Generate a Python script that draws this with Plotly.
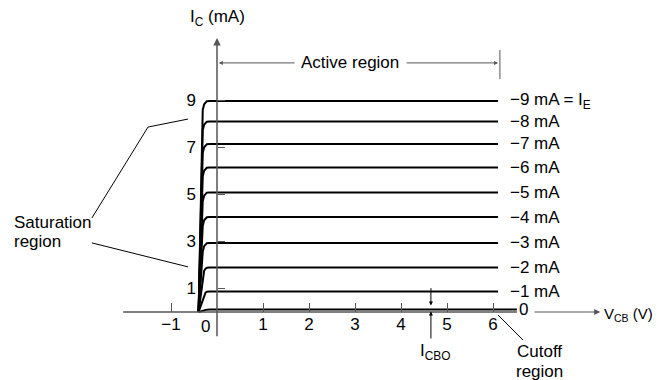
import plotly.graph_objects as go

# ---- data ----
ie_labels = ["−9 mA = I<sub>E</sub>", "−8 mA", "−7 mA", "−6 mA", "−5 mA",
             "−4 mA", "−3 mA", "−2 mA", "−1 mA", "0"]
ic_levels = [8.98, 8.11, 7.15, 6.15, 5.09, 4.04, 2.94, 1.89, 0.87, 0.11]
vcb_knee = [-0.40, -0.31, -0.28, -0.25, -0.22, -0.16]
v_end = [6.11, 6.11, 6.11, 6.11, 6.11, 6.11, 6.11, 6.11, 6.11, 6.52]
ic_9 = [0, 8.60, 8.84, 8.93, 8.97, 8.98, 8.98]
ic_8 = [0, 7.73, 7.97, 8.06, 8.10, 8.11, 8.11]
ic_7 = [0, 6.77, 7.01, 7.10, 7.14, 7.15, 7.15]
ic_6 = [0, 5.77, 6.01, 6.10, 6.14, 6.15, 6.15]
ic_5 = [0, 4.71, 4.95, 5.04, 5.08, 5.09, 5.09]
ic_4 = [0, 3.66, 3.90, 3.99, 4.03, 4.04, 4.04]
ic_3 = [0, 2.56, 2.80, 2.89, 2.93, 2.94, 2.94]
ic_2 = [0, 1.51, 1.75, 1.84, 1.88, 1.89, 1.89]
ic_1 = [0, 0.52, 0.74, 0.82, 0.86, 0.87, 0.87]
ic_0 = [0, 0.03, 0.07, 0.09, 0.105, 0.11, 0.11]
ic_curves = [ic_9, ic_8, ic_7, ic_6, ic_5, ic_4, ic_3, ic_2, ic_1, ic_0]
x_ticks = [-1, 1, 2, 3, 4, 5, 6]
x_tick_text = ["−1", "1", "2", "3", "4", "5", "6"]
y_ticks = [1, 3, 5, 7, 9]

FONT = "Liberation Sans, Arial, sans-serif"
AX = "#555555"
FS = 17

fig = go.Figure()
for ic, ve in zip(ic_curves, v_end):
    fig.add_trace(go.Scatter(x=vcb_knee + [ve], y=ic, mode="lines",
                             line=dict(color="black", width=2),
                             hoverinfo="skip", showlegend=False))

ann = []
# curve labels
for lab, lvl in zip(ie_labels, ic_levels):
    xpos = 6.52 if lab == "0" else 6.33
    ann.append(dict(x=xpos, y=lvl, text=lab, showarrow=False, xanchor="left",
                    yanchor="middle", font=dict(size=FS)))

# axis arrows
ann.append(dict(x=0, y=11.66, ax=0, ay=-1.1, xref="x", yref="y", axref="x", ayref="y",
                showarrow=True, arrowhead=2, arrowsize=1, arrowwidth=1.5, arrowcolor=AX, text=""))
ann.append(dict(x=8.33, y=0, ax=6.87, ay=0, xref="x", yref="y", axref="x", ayref="y",
                showarrow=True, arrowhead=2, arrowsize=1, arrowwidth=1.2, arrowcolor=AX, text=""))
# axis titles
ann.append(dict(x=-0.63, y=12.5, text="I<sub>C</sub> (mA)", showarrow=False,
                xanchor="left", font=dict(size=FS)))
ann.append(dict(x=8.36, y=-0.1, text="V<sub>CB</sub> (V)", showarrow=False,
                xanchor="left", font=dict(size=15)))
ann.append(dict(x=-0.26, y=-0.6, text="0", showarrow=False, font=dict(size=FS)))

# active region bracket
ann.append(dict(x=0.04, y=10.6, ax=1.72, ay=10.6, xref="x", yref="y", axref="x", ayref="y",
                showarrow=True, arrowhead=2, arrowsize=0.8, arrowwidth=1, arrowcolor=AX, text=""))
ann.append(dict(x=6.11, y=10.6, ax=4.09, ay=10.6, xref="x", yref="y", axref="x", ayref="y",
                showarrow=True, arrowhead=2, arrowsize=0.8, arrowwidth=1, arrowcolor=AX, text=""))
ann.append(dict(x=2.90, y=10.6, text="Active region", showarrow=False, font=dict(size=FS)))

# saturation region
ann.append(dict(x=-4.46, y=3.79, text="Saturation", showarrow=False,
                xanchor="left", font=dict(size=FS)))
ann.append(dict(x=-4.46, y=3.02, text="region", showarrow=False,
                xanchor="left", font=dict(size=FS)))

# ICBO
ann.append(dict(x=4.65, y=0.28, ax=4.65, ay=1.08, xref="x", yref="y", axref="x", ayref="y",
                showarrow=True, arrowhead=2, arrowsize=0.8, arrowwidth=1, arrowcolor="black", text=""))
ann.append(dict(x=4.65, y=0.02, ax=4.65, ay=-1.19, xref="x", yref="y", axref="x", ayref="y",
                showarrow=True, arrowhead=2, arrowsize=0.8, arrowwidth=1, arrowcolor="black", text=""))
ann.append(dict(x=4.74, y=-1.72, text="I<sub>CBO</sub>", showarrow=False, font=dict(size=FS)))

# cutoff
ann.append(dict(x=7.02, y=-1.70, text="Cutoff", showarrow=False, font=dict(size=FS)))
ann.append(dict(x=7.02, y=-2.55, text="region", showarrow=False, font=dict(size=FS)))

shapes = [
    dict(type="line", x0=-2.04, y0=0, x1=6.52, y1=0, line=dict(color=AX, width=1.5)),
    dict(type="line", x0=6.15, y0=11.15, x1=6.15, y1=9.91, line=dict(color=AX, width=1)),
    dict(type="line", x0=-2.72, y0=4.0, x1=-1.50, y1=7.87, line=dict(color="black", width=1)),
    dict(type="line", x0=-1.50, y0=7.87, x1=-0.63, y1=8.21, line=dict(color="black", width=1)),
    dict(type="line", x0=-2.72, y0=2.94, x1=-0.63, y1=1.92, line=dict(color="black", width=1)),
    dict(type="line", x0=6.11, y0=-0.13, x1=6.65, y1=-1.19, line=dict(color="black", width=1)),
]

# page has an 8px body margin, so the figure is drawn 8px in from the window edge
fig.update_layout(
    width=653, height=372, margin=dict(l=0, r=0, t=0, b=0),
    paper_bgcolor="white", plot_bgcolor="white",
    font=dict(family=FONT, color="black", size=FS),
    annotations=ann, shapes=shapes,
    xaxis=dict(range=[-4.5435, 9.652], domain=[0, 1], anchor="free", position=0.1828,
               showgrid=False, zeroline=False, showline=False,
               tickvals=x_ticks, ticktext=x_tick_text, ticks="inside", ticklen=9,
               tickcolor=AX, tickwidth=1, tickfont=dict(size=FS)),
    yaxis=dict(range=[-2.894, 12.936], domain=[0, 1], anchor="free", position=0.3201,
               showgrid=False, zeroline=False, showline=False,
               tickvals=y_ticks, ticks="inside", ticklen=7, tickcolor=AX, tickwidth=1,
               tickfont=dict(size=FS), ticklabelstandoff=21),
)

fig.write_html("out.html")
